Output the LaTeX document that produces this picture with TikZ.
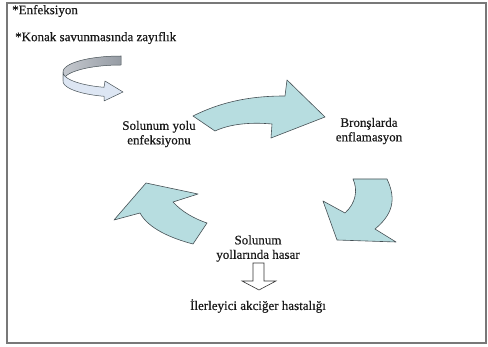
\documentclass[tikz,border=0pt]{standalone}
\usepackage{fontspec}
\setmainfont[FakeBold=0.5]{Liberation Serif}
\definecolor{teal1}{RGB}{183,221,224}
\definecolor{edge1}{RGB}{70,80,85}
\definecolor{frame1}{RGB}{120,120,120}
\definecolor{txt}{RGB}{25,25,25}
\definecolor{ribbonlight}{RGB}{221,230,243}
\definecolor{ribbongrayA}{RGB}{196,200,206}
\definecolor{ribbongrayB}{RGB}{150,156,164}
\begin{document}
\begin{tikzpicture}[x=1pt,y=-1pt,
  lbl/.style={font=\fontsize{13}{14.5}\selectfont, text=txt, align=center, inner sep=0pt},
  tealarrow/.style={fill=teal1, draw=edge1, line width=0.6pt, line join=round},
  hollow/.style={fill=white, draw=black!80, line width=0.6pt}]
\useasboundingbox (0,0) rectangle (488,347);
\fill[white] (0,0) rectangle (488,347);
\draw[frame1, line width=1.3pt] (7,3) rectangle (486,343);

% top texts
\node[lbl, anchor=west] (t1) at (12,11) {*Enfeksiyon};
\node[lbl, anchor=west] (t2) at (15,38) {*Konak savunmasında zayıflık};

% 3D U-turn ribbon arrow
\shade[left color=ribbongrayA, right color=ribbongrayB, draw=edge1, line width=0.5pt]
  plot[domain=90:180, samples=30, variable=\t]({121+58*cos(\t)},{72-16*sin(\t)})
  -- plot[domain=180:90, samples=30, variable=\t]({121+58*cos(\t)},{81-16*sin(\t)}) -- cycle;
\fill[ribbonlight, draw=edge1, line width=0.5pt, line join=round]
  plot[domain=180:253, samples=30, variable=\t]({121+58*cos(\t)},{72-16*sin(\t)})
  -- (105,81) -- (123,92) -- (104,101) -- (104,96.3)
  -- plot[domain=253:180, samples=30, variable=\t]({121+58*cos(\t)},{81-16*sin(\t)}) -- cycle;

% cycle labels
\node[lbl] (n1) at (159,134) {Solunum yolu\\enfeksiyonu};
\node[lbl] (n2) at (369,131) {Bronşlarda\\enflamasyon};
\node[lbl] (n3) at (258,248.5) {Solunum\\yollarında hasar};
\node[lbl] (n4) at (258,306) {İlerleyici akciğer hastalığı};

% teal cycle arrows
\draw[tealarrow] (193,116) .. controls (225,100) and (255,96) .. (285,96) -- (287,80) -- (325,117)
  -- (271,138) -- (272,124) .. controls (250,122) and (230,124) .. (215,131) -- cycle;
\draw[tealarrow] (353,179) -- (387,179) .. controls (397,200) and (392,215) .. (375,229)
  -- (396,242) -- (337,240) -- (323,201) -- (345,213) .. controls (356,203) and (358,190) .. (353,179) -- cycle;
\draw[tealarrow] (146,183) -- (198,194) -- (173,202) .. controls (182,212) and (195,219) .. (207,223)
  -- (193,244) .. controls (170,238) and (148,228) .. (140,213) -- (114,220) -- cycle;

% hollow down arrow
\draw[hollow] (253,263) -- (264,263) -- (264,281) -- (276,281) -- (259,290) -- (242,281) -- (253,281) -- cycle;
\end{tikzpicture}
\end{document}
